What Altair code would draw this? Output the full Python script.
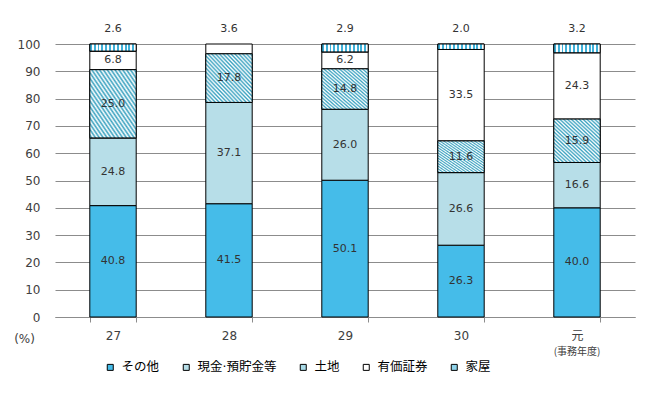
import altair as alt
import pandas as pd

years = ["27", "28", "29", "30", "元"]
items = ["その他", "現金·預貯金等", "土地", "有価証券", "家屋"]
sonota = [40.8, 41.5, 50.1, 26.3, 40.0]
genkin = [24.8, 37.1, 26.0, 26.6, 16.6]
tochi = [25.0, 17.8, 14.8, 11.6, 15.9]
yuka = [6.8, 3.6, 6.2, 33.5, 24.3]
kaoku = [2.6, 0.0, 2.9, 2.0, 3.2]
top_labels = ["2.6", "3.6", "2.9", "2.0", "3.2"]
y_ticks = list(range(0, 101, 10))

series = [sonota, genkin, tochi, yuka, kaoku]
rows = []
for k, (name, vals) in enumerate(zip(items, series)):
    for yr, v in zip(years, vals):
        rows.append({"year": yr, "item": name, "order": k, "value": v})
df = pd.DataFrame(rows)
top_df = pd.DataFrame({"year": years, "label": top_labels})
note_df = pd.DataFrame({"year": ["元"], "t": ["(事務年度)"]})

NUM_FONT = "DejaVu Sans"
JP_FONT = "Noto Sans CJK JP"


def hatch(n, duty, color, x1, y1, x2, y2):
    stops = []
    for i in range(n):
        a = i / n
        b = (i + duty) / n
        c = (i + 1) / n
        stops += [
            {"offset": a, "color": color},
            {"offset": b, "color": color},
            {"offset": b, "color": "#ffffff"},
            {"offset": c, "color": "#ffffff"},
        ]
    return {"gradient": "linear", "x1": x1, "y1": y1, "x2": x2, "y2": y2, "stops": stops}


def soft_hatch(n, color, x1, y1, x2, y2):
    stops = []
    for i in range(n):
        stops += [
            {"offset": i / n, "color": "#ffffff"},
            {"offset": (i + 0.5) / n, "color": color},
        ]
    stops.append({"offset": 1, "color": "#ffffff"})
    return {"gradient": "linear", "x1": x1, "y1": y1, "x2": x2, "y2": y2, "stops": stops}


diag = soft_hatch(24, "#3aa2c0", 0, 1, 1, 0)
vert = hatch(12, 0.5, "#3fb0d8", 0, 0, 1, 0)

colors = ["#45bce9", "#b7dee8", "#a9dbe8", "#ffffff", "#8fd3ea"]

x_enc = alt.X(
    "year:N",
    sort=years,
    scale=alt.Scale(paddingInner=0.6, paddingOuter=0.3),
    axis=alt.Axis(
        title=None, labelAngle=0, tickBand="extent", tickSize=5, ticks=True,
        domainColor="#8c8c8c", tickColor="#8c8c8c", labelPadding=8,
        labelFontSize=12, labelFont=NUM_FONT + ", " + JP_FONT, labelColor="#404040",
        grid=False,
    ),
)
y_scale = alt.Scale(domain=[0, 100])
y_axis = alt.Axis(
    values=y_ticks, title="(%)", titleAngle=0, titleX=-31, titleY=294,
    titleFontSize=12, titleFontWeight="normal", titleColor="#404040",
    titleFont=NUM_FONT, titleAlign="center", titleBaseline="middle",
    domain=False, ticks=False, tickSize=0, labelPadding=15,
    gridColor="#8c8c8c", labelFontSize=12, labelFont=NUM_FONT,
    labelColor="#404040", labelOverlap=False,
)

base = alt.Chart(df).transform_filter("datum.value > 0").transform_stack(
    stack="value", groupby=["year"], sort=[alt.SortField("order")], as_=["y0", "y1"]
)

bars = base.mark_bar(stroke="black", strokeWidth=1).encode(
    x=x_enc,
    y=alt.Y("y0:Q", scale=y_scale, axis=y_axis),
    y2="y1:Q",
    color=alt.Color(
        "item:N",
        scale=alt.Scale(domain=items, range=colors),
        legend=alt.Legend(
            orient="none", legendX=49, legendY=317, direction="horizontal",
            title=None, symbolType="square", symbolSize=36,
            symbolStrokeColor="black", symbolStrokeWidth=1,
            labelFont=NUM_FONT + ", " + JP_FONT, labelFontSize=12.5, labelColor="#000000",
            columnPadding=20, labelOffset=5, padding=0,
            labelExpr="(datum.label == '土地' || datum.label == '家屋') ? '\u2002\u2009' + datum.label : datum.label",
        ),
    ),
)

patterned = base.transform_filter(
    alt.FieldOneOfPredicate(field="item", oneOf=["土地", "家屋"])
).mark_bar(stroke="black", strokeWidth=1).encode(
    x=x_enc,
    y=alt.Y("y0:Q", scale=y_scale, axis=y_axis),
    y2="y1:Q",
    fill={"condition": [{"test": "datum.item === '土地'", "value": diag}], "value": vert},
)

labels = base.transform_filter("datum.value > 5").transform_calculate(
    mid="(datum.y0 + datum.y1) / 2", lab="format(datum.value, '.1f')"
).mark_text(font=NUM_FONT, fontSize=11, color="#333333").encode(
    x=x_enc, y=alt.Y("mid:Q", scale=y_scale, axis=y_axis), text="lab:N"
)

tops = alt.Chart(top_df).mark_text(
    font=NUM_FONT, fontSize=11, color="#333333", dy=-15
).encode(x=x_enc, y=alt.datum(100, axis=y_axis), text="label:N")

note = alt.Chart(note_df).mark_text(
    font=JP_FONT, fontSize=10, color="#404040"
).encode(x=x_enc, y=alt.value(308), text="t:N")

chart = alt.layer(bars, patterned, labels, tops, note).properties(
    width=580, height=273,
    autosize=alt.AutoSizeParams(type="none"),
    padding={"left": 47, "top": 36, "right": 7, "bottom": 70},
).configure_view(stroke=None)

chart.save("out.html", embed_options={"renderer": "svg", "actions": False})
